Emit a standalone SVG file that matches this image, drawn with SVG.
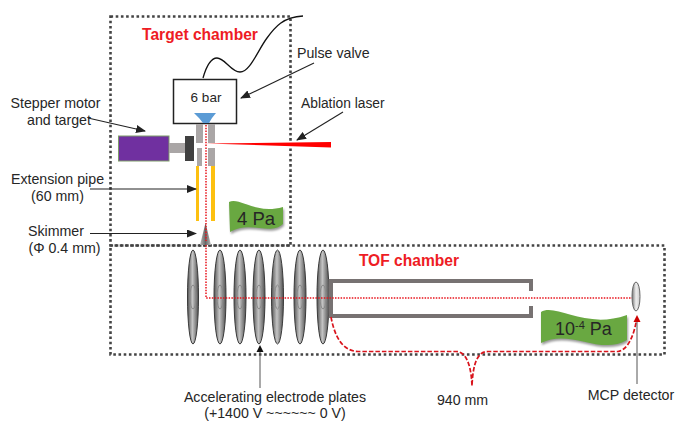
<svg xmlns="http://www.w3.org/2000/svg" width="675" height="422" viewBox="0 0 675 422">
<style>
text{font-family:"Liberation Sans",Arial,sans-serif;font-size:14.2px;fill:#262626}
.m{text-anchor:middle}
.red{fill:#ee1c24;font-size:15.600px;font-weight:bold;text-anchor:middle}
.dot{fill:none;stroke:#444;stroke-width:2.6;stroke-dasharray:2.6 2.6}
.ln{fill:none;stroke:#222;stroke-width:1.100}
.gry{fill:#aaa6a6}
.yel{fill:#fdc010}
.pl{fill:url(#pg);stroke:#3a3a3a;stroke-width:1}
.inner{fill:none;stroke:#8a8a8a;stroke-width:1}
.tube{fill:#777272}
.flag{fill:#69a841;filter:drop-shadow(1px 2px 1px #999)}
.beam{fill:none;stroke:#e8131b;stroke-width:1.500;stroke-dasharray:1.500 1.300}
.tr{fill:none;stroke:#d9141c;stroke-width:1.700;stroke-dasharray:4.500 2}
</style>
<defs>
<linearGradient id="pg"><stop offset="0" stop-color="#555"/><stop offset=".45" stop-color="#c4c4c4"/><stop offset="1" stop-color="#505050"/></linearGradient>
<linearGradient id="sk"><stop offset="0" stop-color="#bbb"/><stop offset=".5" stop-color="#666"/><stop offset="1" stop-color="#bbb"/></linearGradient>
<linearGradient id="det"><stop offset="0" stop-color="#777"/><stop offset=".5" stop-color="#eee"/><stop offset="1" stop-color="#ccc"/></linearGradient>
<marker id="a" markerWidth="10" markerHeight="8" refX="9" refY="4" orient="auto" markerUnits="userSpaceOnUse"><path d="M0 0L10 4L0 8Z" fill="#222"/></marker>
</defs>

<g id="target-chamber"><rect class="dot" x="110.500" y="16.500" width="180" height="229"/><text class="red" x="200" y="40">Target chamber</text></g>
<g id="tof-chamber"><rect class="dot" x="110.500" y="245.500" width="554" height="109"/><text class="red" x="409" y="266">TOF chamber</text></g>

<g id="pulse-valve">
<path d="M203 78C207 64 212 58 217 58C225 58 231 72 240 72C250 72 258 50 267 38C275 27 283 17 303 16" fill="none" stroke="#111" stroke-width="1.300"/>
<rect x="173.500" y="79.500" width="63" height="44" fill="#fff" stroke="#222" stroke-width="1.500"/>
<text class="m" x="206" y="102" style="font-size:13.500px">6 bar</text>
<path d="M194 113H216L212 118L209 123H203L199 118Z" fill="#5b9bd5"/>
</g>
<g id="source-block">
<rect class="gry" x="196" y="124" width="7" height="19"/><rect class="gry" x="208" y="124" width="7" height="19"/>
<rect class="gry" x="197" y="148" width="5" height="18"/><rect class="gry" x="208" y="148" width="7" height="18"/>
</g>
<g id="stepper-motor">
<rect x="118.500" y="136" width="50.500" height="25" fill="#7030a0" stroke="#7d9b68"/>
<rect class="gry" x="169" y="143" width="17" height="10"/>
<rect x="185" y="136" width="9" height="25" fill="#404040"/>
</g>
<g id="ablation-laser"><path d="M206 143.500L331 142V147.500Z" fill="#f00"/></g>
<g id="extension-pipe"><rect class="yel" x="196" y="166" width="3" height="55"/><rect class="yel" x="211" y="166" width="4" height="55"/></g>
<g id="skimmer"><path d="M205.500 223L211 245H200Z" fill="url(#sk)"/></g>
<g id="flag-4pa"><path class="flag" d="M229 202C240 197 256 215 283 207V224C270 236 250 220 230 232Z"/><text x="237" y="225" style="font-size:18.500px">4 Pa</text></g>

<g id="electrode-plates">
<g id="plate-1"><ellipse class="pl" cx="193" cy="297" rx="5.500" ry="47"/><ellipse class="inner" cx="193" cy="297" rx="3" ry="12"/></g>
<g id="plate-2"><ellipse class="pl" cx="220" cy="297" rx="6" ry="47"/><ellipse class="inner" cx="220" cy="297" rx="3" ry="12"/></g>
<g id="plate-3"><ellipse class="pl" cx="240" cy="297" rx="6" ry="47"/><ellipse class="inner" cx="240" cy="297" rx="3" ry="12"/></g>
<g id="plate-4"><ellipse class="pl" cx="259" cy="297" rx="6" ry="47"/><ellipse class="inner" cx="259" cy="297" rx="3" ry="12"/></g>
<g id="plate-5"><ellipse class="pl" cx="277.500" cy="297" rx="6" ry="47"/><ellipse class="inner" cx="277.500" cy="297" rx="3" ry="12"/></g>
<g id="plate-6"><ellipse class="pl" cx="300" cy="297" rx="6" ry="47"/><ellipse class="inner" cx="300" cy="297" rx="3" ry="12"/></g>
<g id="plate-7"><ellipse class="pl" cx="323" cy="297" rx="6" ry="47"/><ellipse class="inner" cx="323" cy="297" rx="3" ry="12"/></g>
</g>
<g id="flight-tube">
<path class="tube" d="M328.500 279H533V291H529V283H333V314H529V306H533V318H328.500Z"/>
</g>
<g id="mcp-detector"><ellipse cx="636" cy="296.500" rx="4" ry="14.500" fill="url(#det)" stroke="#666" stroke-width="1"/></g>
<g id="flag-vacuum"><path class="flag" d="M541 312C556 303 585 330 627 315V340C600 356 570 328 541 343Z"/><text x="555" y="335" style="font-size:18px">10<tspan dy="-6" style="font-size:11px">-4</tspan><tspan dy="6"> Pa</tspan></text></g>

<g id="connectors">
<path class="beam" d="M206 125V241"/>
<path class="beam" d="M206 245V298H632"/>
<path class="tr" d="M331 317C335 338 343 351 358 351.500H456C465 351.500 471 362 472 386C473 362 478 351.500 488 351.500H618C628 350 634 335 636.500 320"/>
<path d="M637 315L640.500 322H633.500Z" fill="#c00"/>
<path class="ln" d="M314 63L241 98" marker-end="url(#a)"/>
<path class="ln" d="M343 112L297 140" marker-end="url(#a)"/>
<path class="ln" d="M88 118L145 131" marker-end="url(#a)"/>
<path class="ln" d="M90 189L196 189" marker-end="url(#a)"/>
<path class="ln" d="M90 233.500L196 233.500" marker-end="url(#a)"/>
<path d="M260 388V352" fill="none" stroke="#555" stroke-width="1"/>
<path d="M260 345L263.500 352H256.500Z" fill="#111"/>
<path d="M637 384V322" fill="none" stroke="#555" stroke-width="1"/>
</g>

<g id="labels">
<text x="297" y="58">Pulse valve</text>
<text x="301" y="108" style="font-size:13.800px">Ablation laser</text>
<text class="m" x="55.500" y="108">Stepper motor</text><text class="m" x="59" y="125">and target</text>
<text class="m" x="57.500" y="184">Extension pipe</text><text class="m" x="57.500" y="201">(60 mm)</text>
<text class="m" x="56" y="236">Skimmer</text><text class="m" x="64.500" y="253">(Φ 0.4 mm)</text>
<text class="m" x="275" y="402">Accelerating electrode plates</text><text class="m" x="275" y="418">(+1400 V ~~~~~~ 0 V)</text>
<text class="m" x="462.500" y="405">940 mm</text>
<text class="m" x="631" y="400">MCP detector</text>
</g>
</svg>
